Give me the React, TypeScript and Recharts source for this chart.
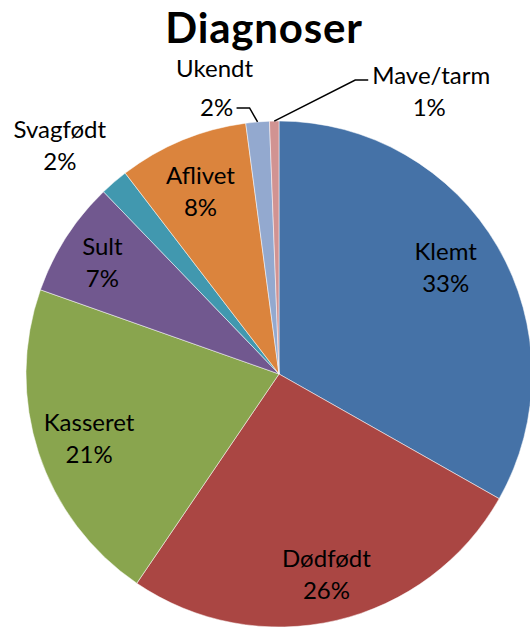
import React from "react";
import { PieChart, Pie, Cell } from "recharts";

const categories = ["Klemt", "Dødfødt", "Kasseret", "Sult", "Svagfødt", "Aflivet", "Ukendt", "Mave/tarm"];
const shares = [33.2, 26.3, 20.9, 7.4, 1.8, 8.3, 1.5, 0.6];
const colors = ["#4572A7", "#AA4643", "#89A54E", "#71588F", "#4198AF", "#DB843D", "#93A9CF", "#D19392"];
const title = "Diagnoser";

const data = categories.map((name, i) => ({ name, value: shares[i] }));

// label placement: labels at a radius fraction along the slice middle (plus small nudges);
// leader labels are offset from the slice edge
type Layout =
  | { kind: "radial"; r: number; dx: number; dy: number }
  | { kind: "leader"; elbow: [number, number]; run: number; tx: number; ty1: number; ty2: number; tx2: number };

const labelLayout: Layout[] = [
  { kind: "radial", r: 0.79, dx: -6, dy: -8 },
  { kind: "radial", r: 0.79, dx: 2, dy: 4 },
  { kind: "radial", r: 0.79, dx: 0, dy: 0 },
  { kind: "radial", r: 0.83, dx: 0, dy: 0 },
  { kind: "radial", r: 1.25, dx: -13, dy: 9 },
  { kind: "radial", r: 0.79, dx: -2, dy: 0 },
  { kind: "leader", elbow: [-8, -14], run: -13, tx: -22, ty1: -40, ty2: -1, tx2: -20 },
  { kind: "leader", elbow: [81, -41], run: 13, tx: 63, ty1: -6, ty2: 26, tx2: 61 },
];

const RAD = Math.PI / 180;
const FONT = "Lato, 'Open Sans', sans-serif";

const renderLabel = (props: any) => {
  const { cx, cy, midAngle, outerRadius, index, name, percent } = props;
  const pct = Math.round(percent * 100 + 1e-6) + "%";
  const lay = labelLayout[index];
  const cos = Math.cos(-midAngle * RAD);
  const sin = Math.sin(-midAngle * RAD);
  const textStyle = { fontFamily: FONT, fontSize: 24, fill: "#000" };
  if (lay.kind === "radial") {
    const r = outerRadius * lay.r;
    const x = cx + r * cos + lay.dx;
    const y = cy + r * sin + lay.dy;
    return (
      <g>
        <text x={x} y={y - 15} textAnchor="middle" dominantBaseline="central" style={textStyle}>
          {name}
        </text>
        <text x={x} y={y + 17} textAnchor="middle" dominantBaseline="central" style={textStyle}>
          {pct}
        </text>
      </g>
    );
  }
  const ex = cx + outerRadius * cos;
  const ey = cy + outerRadius * sin;
  const bx = ex + lay.elbow[0];
  const by = ey + lay.elbow[1];
  const qx = bx + lay.run;
  const qy = by;
  return (
    <g>
      <polyline points={`${ex},${ey} ${bx},${by} ${qx},${qy}`} fill="none" stroke="#000" strokeWidth={1.5} />
      <text x={qx + lay.tx} y={qy + lay.ty1} textAnchor="middle" dominantBaseline="central" style={textStyle}>
        {name}
      </text>
      <text x={qx + lay.tx2} y={qy + lay.ty2} textAnchor="middle" dominantBaseline="central" style={textStyle}>
        {pct}
      </text>
    </g>
  );
};

export default function App() {
  return (
    <div style={{ position: "absolute", left: 0, top: 0, width: 530, height: 628, background: "#fff" }}>
      <PieChart width={530} height={628} margin={{ top: 0, right: 0, bottom: 0, left: 0 }}>
        <Pie
          data={data}
          dataKey="value"
          nameKey="name"
          cx={279}
          cy={374}
          outerRadius={253}
          startAngle={90}
          endAngle={-270}
          stroke="#ffffff"
          strokeWidth={0.5}
          label={renderLabel}
          labelLine={false}
          isAnimationActive={false}
        >
          {data.map((d, i) => (
            <Cell key={d.name} fill={colors[i]} />
          ))}
        </Pie>
      </PieChart>
      <svg width={530} height={60} style={{ position: "absolute", left: 0, top: 0 }}>
        <text
          x={264}
          y={43}
          textAnchor="middle"
          style={{ fontFamily: FONT, fontWeight: 700, fontSize: 42, letterSpacing: 0.8, fill: "#000" }}
        >
          {title}
        </text>
      </svg>
    </div>
  );
}
